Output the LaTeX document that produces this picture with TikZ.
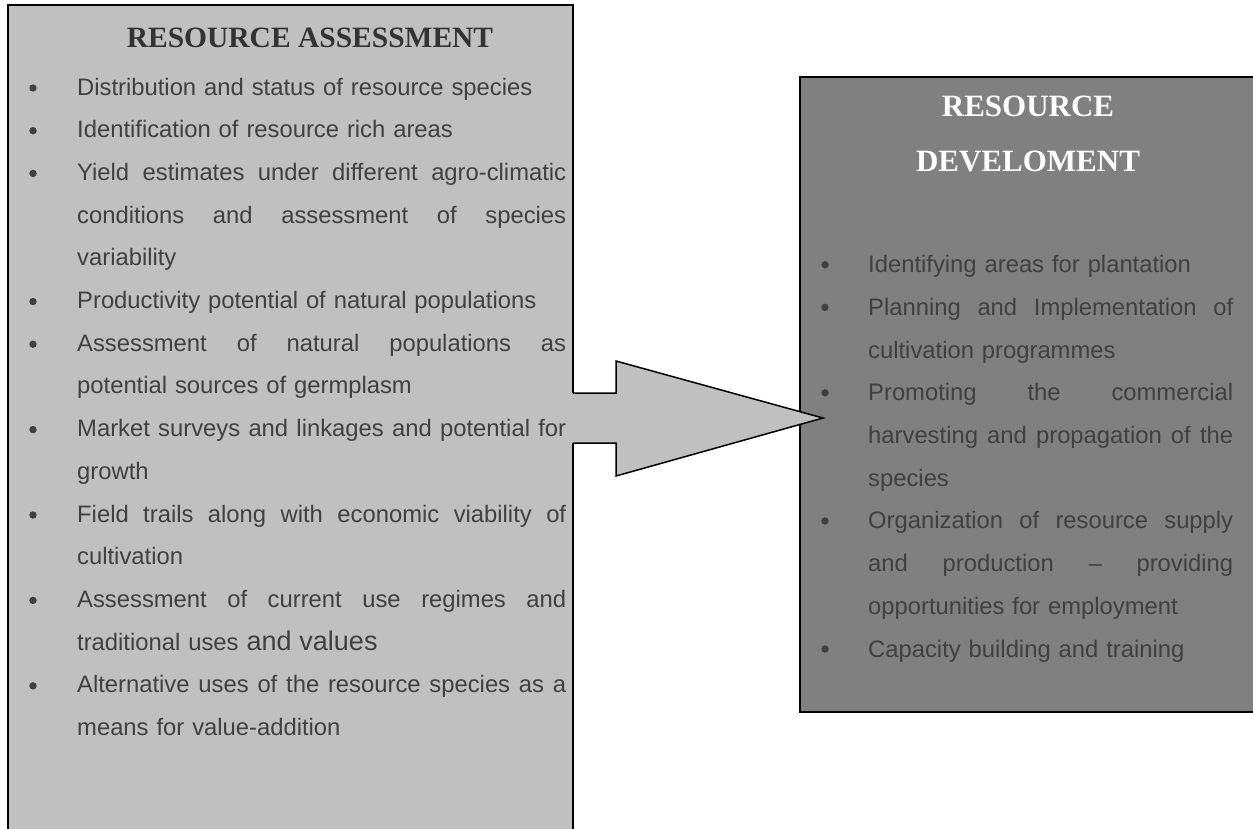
\documentclass[tikz,border=0pt]{standalone}
\usepackage{fontspec}
\usetikzlibrary{calc}
\setmainfont{Liberation Serif}
\newfontfamily\arialfont{Liberation Sans}
\definecolor{boxlight}{HTML}{C0C0C0}
\definecolor{boxdark}{HTML}{808080}
\definecolor{inktext}{HTML}{404040}
\definecolor{titleink}{HTML}{333333}
% justified line: spaces stretch to fill the width
\newcommand\jline[2]{\leavevmode\hbox to #1{\spaceskip=0.278em plus 1fil\relax #2}}

\begin{document}
\begin{tikzpicture}[
    x=1pt, y=-1pt,
    bodytext/.style={font=\arialfont\fontsize{23.8}{42.7}\selectfont, text=inktext, inner sep=0pt, anchor=base west, align=left},
    leftitem/.style={bodytext, text width=489pt},
    rightitem/.style={bodytext, text width=365pt},
    dotmark/.style={circle, fill=inktext, inner sep=0pt, minimum size=7.4pt},
    heading/.style={font=\bfseries\fontsize{29.5}{51}\selectfont, inner sep=0pt, anchor=base}
]
\useasboundingbox (0,0) rectangle (1253,828);

% === BOXES ===
\draw[line width=2pt, fill=boxdark] (800,77) rectangle (1275,712);
\fill[boxlight] (8,5) rectangle (573,850);
\draw[line width=2pt] (573,393) -- (573,5) -- (8,5) -- (8,850);
\draw[line width=2pt] (573,443) -- (573,850);

% === ARROW ===
\coordinate (shaftT) at (573,393);
\coordinate (shaftB) at (573,443);
\coordinate (tip) at (823,418);
\fill[boxlight] ($(shaftT)+(-1,0)$) -- (616,393) -- (616,361) -- (tip) -- (616,476) -- (616,443) -- ($(shaftB)+(-1,0)$) -- cycle;
\draw[line width=1.5pt] (shaftT) -- (616,393) -- (616,361) -- (tip) -- (616,476) -- (616,443) -- (shaftB);

% === RESOURCE ASSESSMENT ===
\node[heading, text=titleink] (assesstitle) at (310,47) {RESOURCE ASSESSMENT};

\foreach \y [count=\i] in {95.0, 137.7, 180.4, 308.5, 351.2, 436.6, 522.0, 607.4, 692.8} {
    \node[dotmark] (adot\i) at (33,\y-7) {};
}
\node[leftitem] (a1) at (77,95.0) {Distribution and status of resource species};
\node[leftitem] (a2) at (77,137.7) {Identification of resource rich areas};
\node[leftitem] (a3) at (77,180.4) {\jline{489pt}{Yield estimates under different agro-climatic}\\
    \jline{489pt}{conditions and assessment of species}\\ variability};
\node[leftitem] (a4) at (77,308.5) {Productivity potential of natural populations};
\node[leftitem] (a5) at (77,351.2) {\jline{489pt}{Assessment of natural populations as}\\
    potential sources of germplasm};
\node[leftitem] (a6) at (77,436.6) {\jline{489pt}{Market surveys and linkages and potential for}\\ growth};
\node[leftitem] (a7) at (77,522.0) {\jline{489pt}{Field trails along with economic viability of}\\ cultivation};
\node[leftitem] (a8) at (77,607.4) {\jline{489pt}{Assessment of current use regimes and}\\
    traditional uses {\fontsize{27}{42.7}\selectfont and values}};
\node[leftitem] (a9) at (77,692.8) {\jline{489pt}{Alternative uses of the resource species as a}\\
    means for value-addition};

% === RESOURCE DEVELOMENT ===
\node[heading, text=white, font=\bfseries\fontsize{31}{51}\selectfont] (develtitle) at (1028,116) {RESOURCE};
\node[heading, text=white, font=\bfseries\fontsize{31}{51}\selectfont] (develtitleb) at (1028,171) {DEVELOMENT};

\foreach \y [count=\i] in {272.7, 315.4, 400.8, 528.9, 657.0} {
    \node[dotmark] (ddot\i) at (825,\y-8) {};
}
\node[rightitem] (d1) at (868,272.7) {Identifying areas for plantation};
\node[rightitem] (d2) at (868,315.4) {\jline{365pt}{Planning and Implementation of}\\
    cultivation programmes};
\node[rightitem] (d3) at (868,400.8) {\jline{365pt}{Promoting the commercial}\\
    \jline{365pt}{harvesting and propagation of the}\\ species};
\node[rightitem] (d4) at (868,528.9) {\jline{365pt}{Organization of resource supply}\\
    \jline{365pt}{and production – providing}\\ opportunities for employment};
\node[rightitem] (d5) at (868,657.0) {Capacity building and training};

\end{tikzpicture}
\end{document}
